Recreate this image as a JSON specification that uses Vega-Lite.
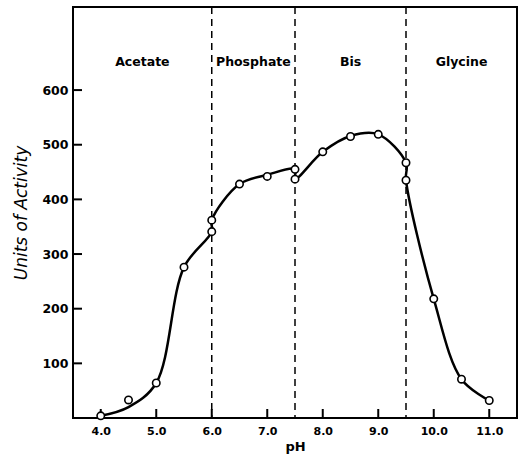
{
  "$schema": "https://vega.github.io/schema/vega-lite/v6.json",
  "width": 444,
  "height": 411,
  "autosize": {"type": "none"},
  "padding": {"left": 73, "top": 7, "right": 4, "bottom": 40},
  "background": "white",
  "config": {
    "view": {"stroke": "black", "strokeWidth": 2},
    "font": "DejaVu Sans",
    "axis": {
      "domain": false,
      "ticks": false,
      "grid": false,
      "labelColor": "black",
      "titleColor": "black",
      "labelFont": "DejaVu Sans",
      "labelFontWeight": "bold",
      "titleFont": "DejaVu Sans"
    }
  },
  "datasets": {
    "activity": [
      {"seq": 1, "pH": 4.0, "units": 4, "fit": 4},
      {"seq": 2, "pH": 4.5, "units": 33, "fit": 20},
      {"seq": 3, "pH": 5.0, "units": 64, "fit": 64},
      {"seq": 4, "pH": 5.5, "units": 276, "fit": 276},
      {"seq": 5, "pH": 6.0, "units": 341, "fit": 341},
      {"seq": 6, "pH": 6.0, "units": 362, "fit": 362},
      {"seq": 7, "pH": 6.5, "units": 428, "fit": 428},
      {"seq": 8, "pH": 7.0, "units": 442, "fit": 445},
      {"seq": 9, "pH": 7.5, "units": 455, "fit": 455},
      {"seq": 10, "pH": 7.5, "units": 437, "fit": 437},
      {"seq": 11, "pH": 8.0, "units": 487, "fit": 487},
      {"seq": 12, "pH": 8.5, "units": 515, "fit": 516},
      {"seq": 13, "pH": 9.0, "units": 519, "fit": 519},
      {"seq": 14, "pH": 9.5, "units": 467, "fit": 467},
      {"seq": 15, "pH": 9.5, "units": 435, "fit": 435},
      {"seq": 16, "pH": 10.0, "units": 218, "fit": 218},
      {"seq": 17, "pH": 10.5, "units": 71, "fit": 71},
      {"seq": 18, "pH": 11.0, "units": 32, "fit": 32}
    ],
    "boundaries": [
      {"pH": 6.0},
      {"pH": 7.5},
      {"pH": 9.5}
    ],
    "buffers": [
      {"buffer": "Acetate", "pH": 4.75, "units": 652},
      {"buffer": "Phosphate", "pH": 6.75, "units": 652},
      {"buffer": "Bis", "pH": 8.5, "units": 652},
      {"buffer": "Glycine", "pH": 10.5, "units": 652}
    ],
    "unitTicks": [
      {"units": 100}, {"units": 200}, {"units": 300},
      {"units": 400}, {"units": 500}, {"units": 600}
    ],
    "pHTicks": [
      {"pH": 4}, {"pH": 5}, {"pH": 6}, {"pH": 7},
      {"pH": 8}, {"pH": 9}, {"pH": 10}, {"pH": 11}
    ]
  },
  "layer": [
    {
      "data": {"name": "boundaries"},
      "mark": {"type": "rule", "color": "black", "strokeWidth": 1.5, "strokeDash": [7, 5]},
      "encoding": {
        "x": {"field": "pH", "type": "quantitative", "scale": {"domain": [3.5, 11.5]}}
      }
    },
    {
      "description": "inward tick marks on the left edge",
      "data": {"name": "unitTicks"},
      "mark": {"type": "rule", "color": "black", "strokeWidth": 2},
      "encoding": {
        "y": {"field": "units", "type": "quantitative", "scale": {"domain": [0, 752]}},
        "x": {"datum": 3.5, "type": "quantitative", "scale": {"domain": [3.5, 11.5]}},
        "x2": {"datum": 3.662}
      }
    },
    {
      "description": "inward tick marks on the bottom edge",
      "data": {"name": "pHTicks"},
      "mark": {"type": "rule", "color": "black", "strokeWidth": 2},
      "encoding": {
        "x": {"field": "pH", "type": "quantitative", "scale": {"domain": [3.5, 11.5]}},
        "y": {"datum": 0, "type": "quantitative", "scale": {"domain": [0, 752]}},
        "y2": {"datum": 16.5}
      }
    },
    {
      "data": {"name": "activity"},
      "mark": {"type": "line", "color": "black", "strokeWidth": 2.5, "interpolate": "catmull-rom"},
      "encoding": {
        "x": {"field": "pH", "type": "quantitative", "scale": {"domain": [3.5, 11.5]}},
        "y": {"field": "fit", "type": "quantitative", "scale": {"domain": [0, 752]}},
        "order": {"field": "seq", "type": "quantitative"}
      }
    },
    {
      "data": {"name": "activity"},
      "mark": {"type": "point", "shape": "circle", "filled": true, "fill": "white", "stroke": "black", "strokeWidth": 1.6, "size": 55, "opacity": 1},
      "encoding": {
        "x": {
          "field": "pH",
          "type": "quantitative",
          "scale": {"domain": [3.5, 11.5]},
          "axis": {
            "title": "pH",
            "values": [4, 5, 6, 7, 8, 9, 10, 11],
            "format": ".1f",
            "labelFontSize": 11,
            "labelPadding": 7,
            "titleFontSize": 13,
            "titleFontWeight": "bold",
            "titlePadding": 4
          }
        },
        "y": {
          "field": "units",
          "type": "quantitative",
          "scale": {"domain": [0, 752]},
          "axis": {
            "title": "Units of Activity",
            "values": [100, 200, 300, 400, 500, 600],
            "labelFontSize": 12.5,
            "labelPadding": 5,
            "titleFontSize": 17,
            "titleFontStyle": "italic",
            "titleFontWeight": "normal",
            "titlePadding": 11
          }
        }
      }
    },
    {
      "data": {"name": "buffers"},
      "mark": {"type": "text", "font": "DejaVu Sans", "fontWeight": "bold", "fontSize": 12.5, "color": "black", "align": "center", "baseline": "middle"},
      "encoding": {
        "x": {"field": "pH", "type": "quantitative", "scale": {"domain": [3.5, 11.5]}},
        "y": {"field": "units", "type": "quantitative", "scale": {"domain": [0, 752]}},
        "text": {"field": "buffer", "type": "nominal"}
      }
    }
  ]
}
